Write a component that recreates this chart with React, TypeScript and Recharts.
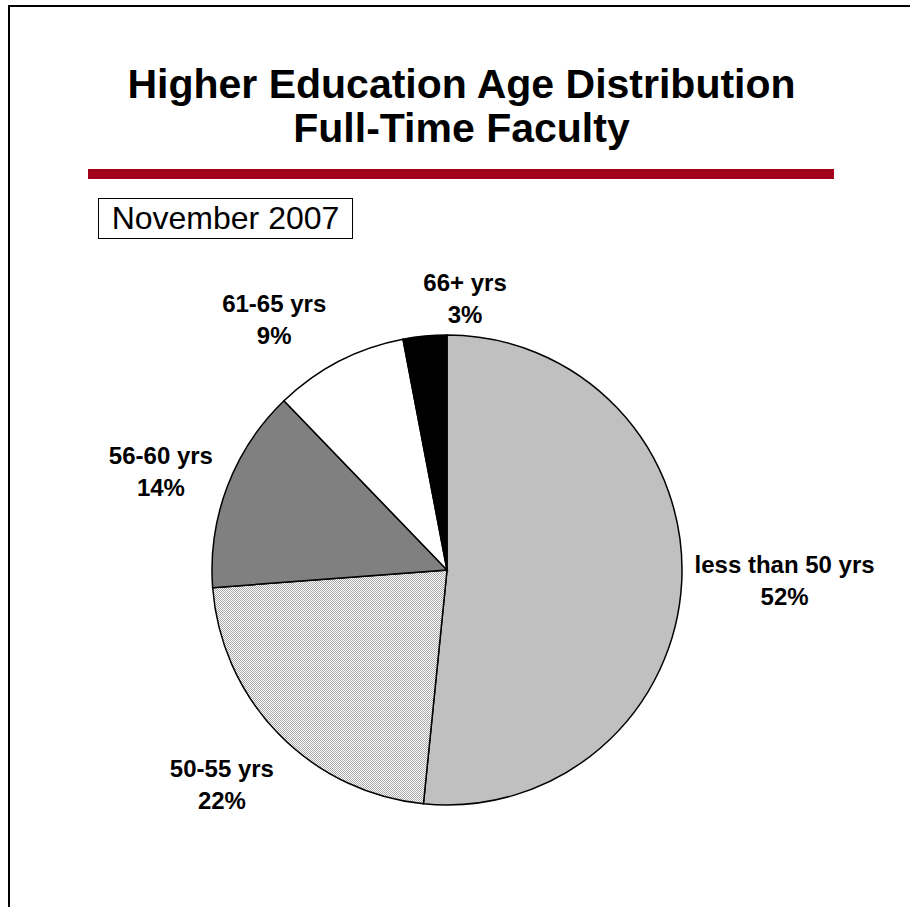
import React from "react";
import { PieChart, Pie, Cell } from "recharts";

const categories = [
  "less than 50 yrs",
  "50-55 yrs",
  "56-60 yrs",
  "61-65 yrs",
  "66+ yrs",
];
// slice sizes (labels show them rounded)
const shares = [51.6, 22.2, 14.0, 9.2, 3.0];

const data = categories.map((name, i) => ({ name, value: shares[i] }));

const FILLS = ["#c0c0c0", "url(#dots)", "#808080", "#ffffff", "#000000"];

// Excel nudges its outside labels around a bit; small per-label shifts
const LABEL_NUDGE = [
  [1, -3],
  [-12, 25],
  [-8, -1],
  [-36, -8],
  [45, 0],
];

const RADIAN = Math.PI / 180;
const FONT = "Arial, 'Liberation Sans', Helvetica, sans-serif";

const renderLabel = ({ cx, cy, midAngle, outerRadius, index, name, percent }: any) => {
  const cos = Math.cos(-midAngle * RADIAN);
  const sin = Math.sin(-midAngle * RADIAN);
  const w = String(name).length * 11.25;
  const h = 50;
  const ax = cx + (outerRadius + 12) * cos;
  const ay = cy + (outerRadius + 12) * sin;
  const [nx, ny] = LABEL_NUDGE[index] || [0, 0];
  const x = ax + (cos * w) / 2 + nx;
  const y = ay + (sin * h) / 2 + ny;
  return (
    <text
      x={x}
      y={y - 8}
      textAnchor="middle"
      fill="#000"
      style={{ fontFamily: FONT, fontSize: 24, fontWeight: 700 }}
    >
      <tspan x={x} y={y - 8}>{name}</tspan>
      <tspan x={x} y={y + 24}>{Math.round(percent * 100)}%</tspan>
    </text>
  );
};

const App = () => {
  return (
    <div
      style={{
        position: "absolute",
        left: 0,
        top: 0,
        width: 910,
        height: 907,
        overflow: "hidden",
        background: "#fff",
        fontFamily: FONT,
      }}
    >
      {/* slide frame */}
      <div
        style={{
          position: "absolute",
          left: 8,
          top: 5,
          width: 950,
          height: 950,
          borderTop: "2px solid #000",
          borderLeft: "2px solid #000",
        }}
      />
      <div
        style={{
          position: "absolute",
          left: 0,
          top: 62,
          width: 923,
          textAlign: "center",
          fontSize: 41,
          fontWeight: 700,
          lineHeight: "44px",
        }}
      >
        Higher Education Age Distribution
        <br />
        Full-Time Faculty
      </div>
      <div
        style={{
          position: "absolute",
          left: 88,
          top: 169,
          width: 746,
          height: 10,
          background: "#a0001a",
        }}
      />
      <div
        style={{
          position: "absolute",
          left: 98,
          top: 198,
          width: 253,
          height: 39,
          border: "1px solid #000",
          fontSize: 32,
          lineHeight: "39px",
          textAlign: "center",
        }}
      >
        November 2007
      </div>
      <div style={{ position: "absolute", left: 0, top: 0 }}>
        <PieChart width={910} height={907}>
          <defs>
            <pattern id="dots" patternUnits="userSpaceOnUse" width={2} height={2}>
              <rect x={0} y={0} width={2} height={2} fill="#ffffff" />
              <rect x={0} y={0} width={1} height={1} fill="#a8a8a8" />
              <rect x={1} y={1} width={1} height={1} fill="#a8a8a8" />
            </pattern>
          </defs>
          <Pie
            data={data}
            dataKey="value"
            nameKey="name"
            cx={442}
            cy={565}
            outerRadius={235}
            startAngle={90}
            endAngle={-270}
            stroke="#000"
            strokeWidth={1.5}
            label={renderLabel}
            labelLine={false}
            isAnimationActive={false}
          >
            {data.map((entry, index) => (
              <Cell key={`cell-${index}`} fill={FILLS[index]} />
            ))}
          </Pie>
        </PieChart>
      </div>
    </div>
  );
};

export default App;
